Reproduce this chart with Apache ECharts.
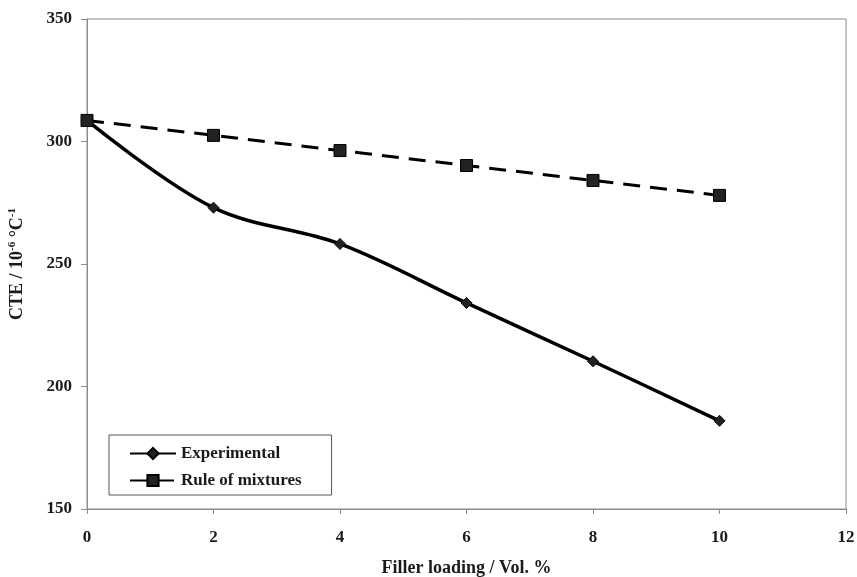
<!DOCTYPE html>
<html><head><meta charset="utf-8">
<script src="https://cdn.jsdelivr.net/npm/echarts@6/dist/echarts.min.js"></script>
<style>html,body{margin:0;padding:0;background:#fff}#c{width:857px;height:577px}</style>
</head><body><div id="c"></div>
<script>
var xValues = [0, 2, 4, 6, 8, 10];
var experimental = [308.6, 273.0, 258.2, 234.1, 210.3, 186.0];
var ruleOfMixtures = [308.6, 302.5, 296.3, 290.2, 284.1, 278.0];
var seriesNames = ['Experimental', 'Rule of mixtures'];

function pairs(xs, ys){ return xs.map(function(x,i){return [x, ys[i]];}); }
var font = '"Liberation Serif", "Times New Roman", serif';
var chart = echarts.init(document.getElementById('c'));
chart.setOption({
  animation: false,
  backgroundColor: '#fff',
  grid: {left: 87, top: 19, right: 11, bottom: 68, show: true, borderColor: '#8c8c8c', borderWidth: 1,
         containLabel: false, outerBoundsMode: 'none'},
  legend: {
    left: 109, top: 435, orient: 'vertical',
    data: seriesNames,
    borderColor: '#555', borderWidth: 1, padding: [10, 30, 6, 20],
    itemGap: 10, itemWidth: 46, itemHeight: 14,
    textStyle: {fontFamily: font, fontWeight: 'bold', fontSize: 17, color: '#1a1a1a'}
  },
  xAxis: {
    type: 'value', min: 0, max: 12, interval: 2,
    axisLine: {show: true, onZero: false, lineStyle: {color: '#8c8c8c'}},
    axisTick: {show: true, length: 5, lineStyle: {color: '#8c8c8c'}},
    splitLine: {show: false},
    axisLabel: {fontFamily: font, fontWeight: 'bold', fontSize: 17, color: '#1a1a1a', margin: 20},
    name: 'Filler loading / Vol. %', nameLocation: 'middle', nameGap: 50,
    nameTextStyle: {fontFamily: font, fontWeight: 'bold', fontSize: 18, color: '#1a1a1a'}
  },
  yAxis: {
    type: 'value', min: 150, max: 350, interval: 50,
    axisLine: {show: true, lineStyle: {color: '#8c8c8c'}},
    axisTick: {show: true, length: 6, lineStyle: {color: '#8c8c8c'}},
    splitLine: {show: false},
    axisLabel: {fontFamily: font, fontWeight: 'bold', fontSize: 17, color: '#1a1a1a', margin: 15},
    name: 'CTE / 10{sup|-6} °C{sup|-1}', nameLocation: 'middle', nameGap: 60,
    nameTextStyle: {fontFamily: font, fontWeight: 'bold', fontSize: 18, color: '#1a1a1a',
      rich: {sup: {fontFamily: font, fontWeight: 'bold', fontSize: 11, verticalAlign: 'top', padding: [0,0,9,0], color:'#1a1a1a'}}}
  },
  series: [
    {
      name: seriesNames[0], type: 'line', data: pairs(xValues, experimental),
      smooth: 0.35, symbol: 'diamond', symbolSize: 11,
      lineStyle: {color: '#000', width: 3.5},
      itemStyle: {color: '#222', borderColor: '#000', borderWidth: 1}
    },
    {
      name: seriesNames[1], type: 'line', data: pairs(xValues, ruleOfMixtures),
      symbol: 'rect', symbolSize: 12,
      lineStyle: {color: '#000', width: 3, type: [17, 10]},
      itemStyle: {color: '#222', borderColor: '#000', borderWidth: 1}
    }
  ]
});
</script></body></html>
